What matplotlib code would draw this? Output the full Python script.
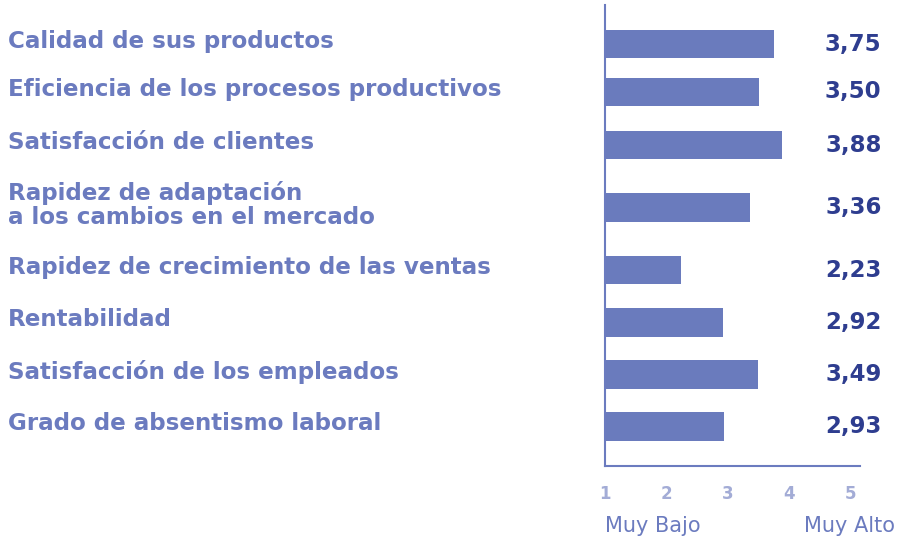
import matplotlib.pyplot as plt
import matplotlib.transforms as mtrans

categories = ['Calidad de sus productos',
              'Eficiencia de los procesos productivos',
              'Satisfacción de clientes',
              'Rapidez de adaptación\na los cambios en el mercado',
              'Rapidez de crecimiento de las ventas',
              'Rentabilidad',
              'Satisfacción de los empleados',
              'Grado de absentismo laboral']
values = [3.75, 3.50, 3.88, 3.36, 2.23, 2.92, 3.49, 2.93]
value_labels = ['3,75', '3,50', '3,88', '3,36', '2,23', '2,92', '3,49', '2,93']
ticks = [1, 2, 3, 4, 5]

# vertical spacing of the rows (the two-line row takes more room)
ypos = [0, 0.92, 1.94, 3.14, 4.34, 5.34, 6.34, 7.34]

bar_col = '#6a7bbd'
lab_col = '#6b7bbf'
num_col = '#2e3d8f'
tick_col = '#a3acd6'

plt.rcParams['font.family'] = ['DejaVu Sans']

fig = plt.figure(figsize=(9.01, 5.37), dpi=100)
ax = fig.add_axes([0.6715, 0.1322, 0.283, 0.8585])

base = 1
ax.barh(ypos, [v - base for v in values], left=base, height=0.55,
        color=bar_col)
ax.set_xlim(1, 5.15)
ax.set_ylim(8.1, -0.75)

for s in ['top', 'right']:
    ax.spines[s].set_visible(False)
for s in ['left', 'bottom']:
    ax.spines[s].set_color(lab_col)
    ax.spines[s].set_linewidth(1.5)

ax.set_yticks([])
ax.set_xticks(ticks)
ax.set_xticklabels([str(t) for t in ticks], color=tick_col,
                   fontsize=12, fontweight='bold')
ax.tick_params(axis='x', length=0, pad=14)

trans = mtrans.blended_transform_factory(fig.transFigure, ax.transData)
for y, c in zip(ypos, categories):
    ax.text(0.009, y - 0.05, c, transform=trans, ha='left', va='center',
            fontsize=16.6, fontweight='bold', color=lab_col, linespacing=1.02)

for y, lab in zip(ypos, value_labels):
    ax.text(5.5, y, lab, ha='right', va='center', fontsize=16.5,
            fontweight='bold', color=num_col, clip_on=False)

fig.text(0.671, 0.01, 'Muy Bajo', ha='left', va='baseline',
         fontsize=15, color=lab_col)
fig.text(0.993, 0.01, 'Muy Alto', ha='right', va='baseline',
         fontsize=15, color=lab_col)

fig.savefig('out.png', dpi=100)
